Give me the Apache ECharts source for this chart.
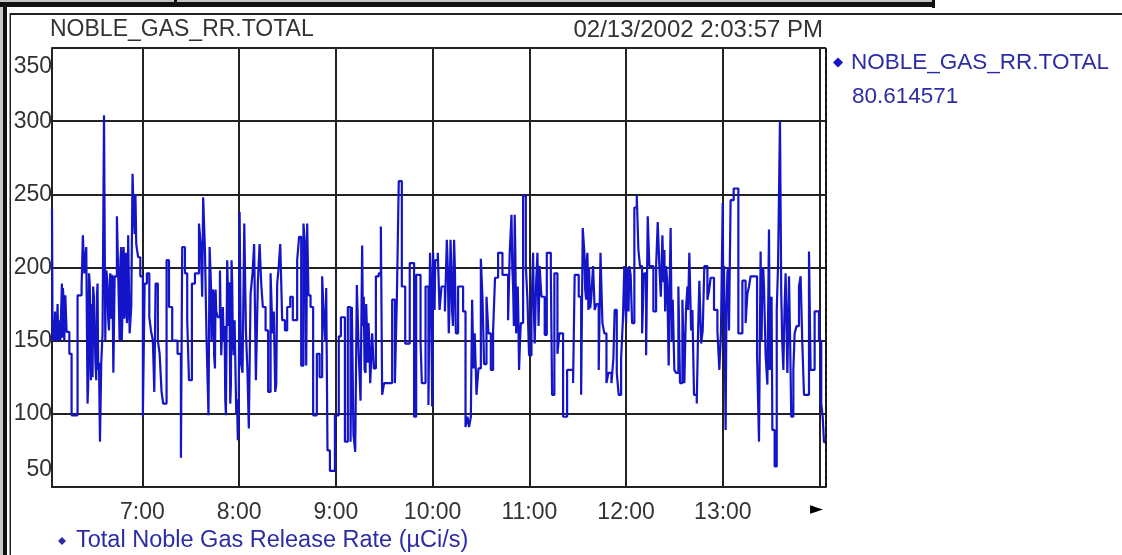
<!DOCTYPE html>
<html>
<head>
<meta charset="utf-8">
<script src="https://cdn.jsdelivr.net/npm/echarts@6/dist/echarts.min.js"></script>
<style>
html, body { margin: 0; padding: 0; background: #fff; }
#chart { width: 1122px; height: 555px; }
</style>
</head>
<body>
<div id="chart"></div>
<script>
// sample times, minutes after midnight on 02/13/2002
var sampleMinutes = [
    363.95, 364.3, 365.0, 366.2, 367.0, 368.3, 369.5, 370.1, 371.0, 371.6,
    372.2, 373.0, 374.7, 376.1, 379.8, 382.3, 383.1, 384.0, 385.2, 386.0,
    386.9, 387.7, 388.1, 388.7, 389.5, 390.4, 391.4, 392.2, 393.1, 393.7,
    394.5, 395.3, 396.2, 397.0, 397.6, 398.4, 399.3, 400.1, 400.9, 402.0,
    402.8, 404.2, 405.0, 405.9, 406.9, 407.5, 408.4, 409.2, 410.4, 411.2,
    412.1, 413.1, 413.9, 415.2, 416.2, 417.4, 418.7, 420.3, 421.4, 422.8,
    424.3, 425.3, 426.5, 427.4, 428.2, 429.6, 430.7, 431.9, 432.9, 435.0,
    436.5, 438.5, 441.8,
    443.9, 444.7, 446.4, 447.8, 448.9, 450.7, 452.6, 455.1, 456.3, 457.1,
    457.7, 458.8, 459.8, 461.0, 461.7, 462.5, 463.3, 464.1, 465.0, 465.8,
    466.8, 468.1, 468.9, 469.9, 471.0, 471.8, 472.6, 473.6, 474.5, 475.3,
    476.1, 477.2, 478.2, 479.2, 480.3, 481.1, 482.1, 483.2, 484.2, 485.2,
    486.0, 487.1, 488.3, 489.3, 490.4, 491.6, 492.7, 493.7, 494.7, 496.4,
    498.0, 499.5, 500.7, 502.4, 503.6, 505.5, 506.7, 508.4, 509.8, 511.7,
    513.3, 516.0, 517.2, 518.5, 519.9,
    521.0, 521.6, 522.2, 523.0, 524.3, 525.9, 528.2, 529.9, 531.5, 532.5,
    533.4, 534.0, 534.8, 536.3, 539.4, 541.8, 543.1, 545.6, 547.4, 549.1,
    549.9, 550.9, 552.0, 553.0, 554.2, 555.3, 556.3, 557.3, 558.4, 559.2,
    560.2, 561.3, 562.5, 563.5, 564.8, 566.6, 567.9, 568.7, 569.9, 574.9,
    576.6, 577.8, 579.0, 580.9, 583.0, 585.8, 588.5, 589.8, 592.5, 593.3,
    595.6, 597.4, 598.4, 599.1,
    599.7, 600.3, 601.2, 602.2, 603.2, 604.3, 605.5, 607.6, 608.8, 610.0,
    611.1, 612.1, 613.3, 614.4, 615.8, 618.9, 620.4, 621.6, 622.6, 623.7,
    624.5, 625.3, 626.1, 627.2, 628.4, 629.9, 630.9, 631.9, 633.4, 634.6,
    636.1, 637.5, 638.7, 640.6, 643.3, 646.8, 647.8, 648.9, 649.9, 650.9,
    651.8, 652.8, 653.6, 654.7, 656.1, 657.8, 658.8, 659.8, 661.3, 662.3,
    663.3, 665.0, 666.4, 667.5, 669.5, 670.8, 673.3, 674.1, 675.5, 677.4,
    678.6,
    680.9, 683.4, 687.1, 688.1, 690.6, 692.1, 693.1, 694.1, 695.2, 696.0,
    696.6, 698.3, 699.5, 700.5, 701.6, 703.0, 704.1, 705.3, 706.5, 707.8,
    709.0, 710.9, 712.1, 712.9, 714.2, 715.4, 716.9, 717.9, 718.9, 720.0,
    721.0, 722.0, 723.7, 725.1, 726.6, 727.6, 728.6, 729.9, 731.1, 732.4,
    733.4, 734.4, 736.9, 738.6, 739.6, 740.6, 742.5, 743.7, 744.8, 746.4,
    747.6, 748.9, 749.9, 751.0, 752.4, 753.4, 754.9, 756.1, 757.1, 758.0,
    758.4, 759.2, 760.3, 761.1, 762.1, 763.8, 764.6, 765.4, 766.5, 767.5,
    768.5, 770.4, 771.4, 772.4, 774.5, 776.6, 777.8, 778.8, 779.9, 780.7,
    781.7, 782.8, 783.8, 784.8, 786.7, 789.6, 792.1, 794.1, 795.2, 796.2,
    797.2, 801.2, 802.4, 803.4, 804.5, 805.5, 807.6, 808.6, 809.6, 810.7,
    812.1, 813.4, 814.2, 815.4, 816.2, 817.5, 818.9, 820.0, 821.0, 822.4,
    823.7, 824.5, 825.7, 827.2, 828.2, 829.3, 830.3, 833.4, 834.4, 836.9,
    839.6, 841.0, 841.9, 842.7, 843.95
];
// NOBLE_GAS_RR.TOTAL, µCi/s
var releaseRate = [
    240, 150, 164, 150, 157, 164, 150, 189, 181, 150,
    181, 156, 141, 99, 181, 187, 222, 196, 214, 107,
    196, 173, 123, 166, 187, 155, 123, 189, 135, 81,
    135, 155, 304, 150, 198, 182, 157, 196, 182, 128,
    194, 235, 196, 150, 214, 162, 214, 173, 162, 222,
    155, 173, 264, 223, 216, 207, 194, 98, 189, 196,
    166, 157, 150, 115, 189, 150, 141, 115, 107, 205,
    173, 150, 141,
    70, 214, 196, 164, 123, 189, 196, 230, 214, 180,
    248, 212, 151, 99, 214, 189, 150, 182, 131, 170,
    166, 198, 140, 173, 160, 99, 205, 160, 107, 205,
    150, 164, 100, 82, 238, 135, 128, 230, 157, 128,
    90, 182, 196, 216, 123, 189, 216, 189, 173, 157,
    115, 196, 155, 115, 189, 216, 164, 157, 173, 180,
    164, 205, 221, 133, 230,
    214, 133, 230, 181, 173, 99, 141, 125, 194, 166,
    150, 186, 75, 61, 99, 153, 166, 81, 173, 81,
    173, 86, 74, 188, 140, 109, 215, 180, 128, 160,
    162, 121, 155, 131, 194, 196, 228, 113, 121, 178,
    121, 178, 259, 187, 148, 203, 98, 195, 150, 121,
    187, 106, 210, 187,
    105, 210, 171, 205, 210, 171, 187, 170, 219, 155,
    219, 170, 219, 155, 187, 170, 91, 98, 91, 98,
    178, 131, 155, 113, 131, 206, 180, 134, 180, 155,
    130, 157, 193, 210, 195, 164, 210, 236, 187, 236,
    155, 187, 130, 162, 249, 201, 178, 140, 171, 210,
    148, 210, 201, 180, 154, 210, 196, 113, 196, 141,
    155,
    98, 130, 121, 195, 180, 113, 227, 210, 178, 210,
    171, 178, 201, 171, 175, 130, 210, 162, 155, 121,
    128, 121, 138, 171, 128, 113, 138, 162, 201, 162,
    196, 201, 162, 241, 249, 212, 201, 155, 196, 140,
    235, 201, 170, 201, 231, 201, 222, 212, 201, 133,
    227, 178, 130, 128, 187, 121, 178, 121, 171, 187,
    171, 210, 157, 171, 113, 107, 155, 191, 148, 157,
    201, 178, 184, 193, 171, 157, 130, 155, 244, 201,
    89, 196, 157, 246, 254, 155, 191, 162, 182, 187,
    194, 140, 81, 211, 194, 187, 120, 226, 171, 89,
    64, 171, 201, 300, 182, 130, 196, 128, 194, 98,
    130, 155, 160, 187, 194, 147, 113, 211, 130, 170,
    150, 107, 98, 80.6, 80.614571
];
// extra samples read inside the solid (rapidly switching) bands
var burstMinutes = [
    364.6, 365.4, 365.8, 366.6, 367.4, 367.8, 368.7, 369.1, 370.4, 370.7, 371.3, 371.9,
    386.4, 387.3, 387.9, 388.4, 389.1, 389.9, 390.9, 391.8, 392.6,
    397.3, 397.9, 398.8, 399.7, 400.5, 401.4,
    406.4, 407.2, 407.9, 408.8, 409.7, 410.8,
    414.5, 415.7, 416.7,
    462.9, 463.7, 464.5, 465.4,
    470.4, 471.4,
    474.0, 474.9, 475.7, 476.6,
    478.7, 479.7,
    501.5, 503.0, 504.5,
    556.8, 557.8, 558.8, 559.7, 560.7,
    598.7, 600.6, 601.6,
    609.4, 610.5, 611.6, 612.6, 613.8,
    649.4, 650.4, 651.3, 653.1, 654.2,
    662.8, 664.2, 665.7, 666.9,
    694.6, 695.6, 697.0, 697.7, 698.9,
    719.4, 720.5, 721.5, 722.8,
    741.5, 743.2, 744.2, 745.5, 747.0, 748.3,
    780.3, 781.2, 782.2, 783.2,
    804.0, 805.0, 806.5, 809.1, 810.2,
    816.8, 818.2, 819.5, 821.7
];
var burstRate = [
    160, 150, 170, 152, 175, 150, 160, 150, 152, 186, 160, 175,
    120, 190, 130, 175, 125, 180, 135, 180, 130,
    185, 196, 165, 190, 165, 195,
    205, 150, 200, 165, 210, 170,
    240, 250, 212,
    150, 185, 140, 185,
    150, 110,
    190, 120, 190, 140,
    110, 90,
    170, 120, 200,
    160, 130, 175, 135, 150,
    200, 190, 205,
    200, 175, 200, 160, 200,
    200, 160, 210, 170, 150,
    170, 190, 160, 190,
    185, 205, 200, 172, 190,
    175, 200, 170, 195,
    180, 190, 170, 190, 190, 150,
    170, 200, 170, 200,
    150, 200, 140, 130, 180,
    150, 170, 160, 150
];

var tagName = 'NOBLE_GAS_RR.TOTAL';
var stampText = '02/13/2002 2:03:57 PM';
var currentValue = '80.614571';
var seriesText = 'Total Noble Gas Release Rate (µCi/s)';
var windowStart = 363.95;   // 06:03:57
var windowEnd = 843.95;     // 14:03:57
var yMin = 50, yMax = 350, yStep = 50;

var font = "'Liberation Sans', Arial, sans-serif";
var lineBlue = '#1414c8';
var textBlue = '#2c2ca4';

var day0 = new Date(2002, 1, 13).getTime();
function toTime(m) { return day0 + Math.round(m * 60000); }

var lineData = [];
for (var i = 0; i < sampleMinutes.length; i++) {
    lineData.push([toTime(sampleMinutes[i]), releaseRate[i]]);
}
for (var j = 0; j < burstMinutes.length; j++) {
    lineData.push([toTime(burstMinutes[j]), burstRate[j]]);
}
lineData.sort(function (a, b) { return a[0] - b[0]; });
if (sampleMinutes.length !== releaseRate.length || burstMinutes.length !== burstRate.length) {
    console.error('length mismatch');
}

var chart = echarts.init(document.getElementById('chart'));

var option = {
    animation: false,
    textStyle: { fontFamily: font },
    title: [
        {
            text: tagName, left: 50, top: 18, padding: 0,
            textStyle: { fontSize: 23, fontWeight: 'normal', color: '#333', fontFamily: font }
        },
        {
            text: stampText, right: 299, top: 18, padding: 0,
            textStyle: { fontSize: 24, fontWeight: 'normal', color: '#333', fontFamily: font }
        }
    ],
    legend: {
        data: [tagName],
        left: 833, top: 51, padding: 0,
        icon: 'diamond', itemWidth: 10, itemHeight: 10,
        selectedMode: false,
        textStyle: { fontSize: 22.5, color: textBlue, fontFamily: font, padding: [0, 0, 0, 3] }
    },
    grid: {
        left: 52, top: 48, right: 296, bottom: 68,
        containLabel: false, outerBoundsMode: 'none'
    },
    xAxis: {
        type: 'time',
        min: toTime(windowStart),
        max: toTime(windowEnd),
        minInterval: 3600 * 1000,
        maxInterval: 3600 * 1000,
        axisLine: { show: true, lineStyle: { color: '#222', width: 2 } },
        axisTick: { show: false },
        splitLine: { show: true, lineStyle: { color: '#222', width: 2 } },
        axisLabel: {
            margin: 14, fontSize: 23, color: '#333', fontFamily: font,
            formatter: function (v) {
                var d = new Date(v);
                if (d.getHours() === 14) return '{arr|►}';
                return d.getHours() + ':' + ('0' + d.getMinutes()).slice(-2);
            },
            rich: { arr: { fontSize: 17, color: '#000', fontFamily: 'DejaVu Sans', padding: [0, 6, 0, 0] } }
        }
    },
    yAxis: {
        type: 'value',
        min: yMin, max: yMax, interval: yStep,
        axisLine: { show: true, lineStyle: { color: '#222', width: 2 } },
        axisTick: { show: false },
        splitLine: { show: true, lineStyle: { color: '#222', width: 2 } },
        axisLabel: {
            margin: 0, fontSize: 23, color: '#333', fontFamily: font,
            formatter: function (v) {
                if (v === yMax) return '{top|' + v + '}';
                if (v === yMin) return '{bot|' + v + '}';
                return '' + v;
            },
            rich: {
                top: { padding: [38, 0, 0, 0], fontSize: 23, color: '#333', fontFamily: font },
                bot: { padding: [0, 0, 34, 0], fontSize: 23, color: '#333', fontFamily: font }
            }
        }
    },
    series: [
        {
            name: tagName,
            type: 'line',
            step: 'end',
            showSymbol: false,
            symbol: 'none',
            data: lineData,
            itemStyle: { color: lineBlue },
            lineStyle: { color: lineBlue, width: 2.2 },
            markLine: {
                silent: true,
                symbol: ['none', 'none'],
                label: { show: false },
                lineStyle: { type: [4, 3], color: '#111', width: 2 },
                data: [{ xAxis: toTime(windowEnd) }]
            }
        }
    ],
    graphic: [
        // window chrome around the trend panel
        { type: 'rect', shape: { x: 0, y: 0, width: 935, height: 3 }, style: { fill: '#c4c4c4' } },
        { type: 'rect', shape: { x: 0, y: 2, width: 935, height: 5 }, style: { fill: '#111' } },
        { type: 'rect', shape: { x: 174, y: 0, width: 3, height: 7 }, style: { fill: '#111' } },
        { type: 'rect', shape: { x: 932, y: 0, width: 3, height: 8 }, style: { fill: '#111' } },
        { type: 'rect', shape: { x: 10, y: 13, width: 1112, height: 2 }, style: { fill: '#222' } },
        { type: 'rect', shape: { x: 0, y: 7, width: 3, height: 548 }, style: { fill: '#c8c8c8' } },
        { type: 'rect', shape: { x: 3, y: 7, width: 4, height: 548 }, style: { fill: '#111' } },
        { type: 'rect', shape: { x: 9.5, y: 13, width: 1.5, height: 542 }, style: { fill: '#222' } },
        // current value under the legend entry
        {
            type: 'text', x: 852, y: 85,
            style: { text: currentValue, fontSize: 22.5, fill: textBlue, fontFamily: font }
        },
        // axis caption
        {
            type: 'polygon',
            shape: { points: [[62, 537], [66, 541], [62, 545], [58, 541]] },
            style: { fill: textBlue }
        },
        {
            type: 'text', x: 76, y: 529,
            style: { text: seriesText, fontSize: 23.5, fill: textBlue, fontFamily: font }
        }
    ]
};
chart.setOption(option);
window.onresize = chart.resize;
</script>
</body>
</html>
